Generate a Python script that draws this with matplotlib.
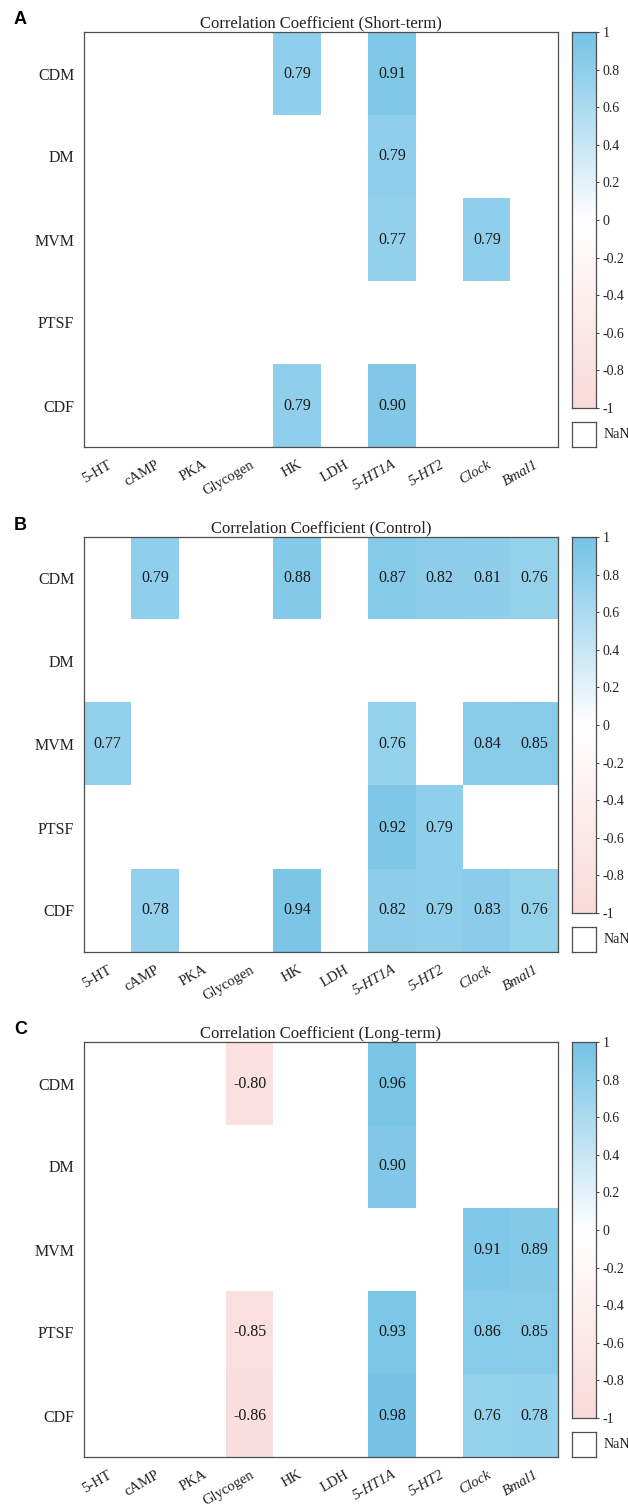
import numpy as np
import matplotlib
matplotlib.use('Agg')
import matplotlib.pyplot as plt
from matplotlib.colors import LinearSegmentedColormap
from matplotlib.transforms import ScaledTranslation

plt.rcParams['font.family'] = ['Liberation Serif', 'DejaVu Serif']

nan = np.nan

rows = ['CDM', 'DM', 'MVM', 'PTSF', 'CDF']
cols = ['5-HT', 'cAMP', 'PKA', 'Glycogen', 'HK', 'LDH', '5-HT1A', '5-HT2', 'Clock', 'Bmal1']
italic_cols = ['5-HT1A', '5-HT2', 'Clock', 'Bmal1']

titles = ['Correlation Coefficient (Short-term)',
          'Correlation Coefficient (Control)',
          'Correlation Coefficient (Long-term)']
letters = ['A', 'B', 'C']

#                5-HT  cAMP  PKA   Glyc   HK    LDH  5HT1A 5HT2  Clock Bmal1
short_term = [[nan, nan, nan, nan,  0.79, nan, 0.91, nan,  nan,  nan],
              [nan, nan, nan, nan,  nan,  nan, 0.79, nan,  nan,  nan],
              [nan, nan, nan, nan,  nan,  nan, 0.77, nan,  0.79, nan],
              [nan, nan, nan, nan,  nan,  nan, nan,  nan,  nan,  nan],
              [nan, nan, nan, nan,  0.79, nan, 0.90, nan,  nan,  nan]]

control = [[nan,  0.79, nan, nan, 0.88, nan, 0.87, 0.82, 0.81, 0.76],
           [nan,  nan,  nan, nan, nan,  nan, nan,  nan,  nan,  nan],
           [0.77, nan,  nan, nan, nan,  nan, 0.76, nan,  0.84, 0.85],
           [nan,  nan,  nan, nan, nan,  nan, 0.92, 0.79, nan,  nan],
           [nan,  0.78, nan, nan, 0.94, nan, 0.82, 0.79, 0.83, 0.76]]

long_term = [[nan, nan, nan, -0.80, nan, nan, 0.96, nan, nan,  nan],
             [nan, nan, nan, nan,   nan, nan, 0.90, nan, nan,  nan],
             [nan, nan, nan, nan,   nan, nan, nan,  nan, 0.91, 0.89],
             [nan, nan, nan, -0.85, nan, nan, 0.93, nan, 0.86, 0.85],
             [nan, nan, nan, -0.86, nan, nan, 0.98, nan, 0.76, 0.78]]

panels = [short_term, control, long_term]

cmap = LinearSegmentedColormap.from_list(
    'pinkblue', [(0.0, '#F9DAD8'), (0.5, '#FFFFFF'), (1.0, '#74C3E6')])
cmap.set_bad('white')

W, H = 628, 1508
fig = plt.figure(figsize=(W / 100, H / 100), dpi=100)

box_tops = [32, 537, 1042]
box_h = 415
edge = '0.3'
shift = ScaledTranslation(4 / 100, 0, fig.dpi_scale_trans)

for k, data in enumerate(panels):
    arr = np.array(data, dtype=float)
    top = box_tops[k]
    ax = fig.add_axes([84 / W, (H - top - box_h) / H, 474 / W, box_h / H])
    ax.imshow(np.ma.masked_invalid(arr), cmap=cmap, vmin=-1, vmax=1,
              aspect='auto', interpolation='nearest')
    for i in range(arr.shape[0]):
        for j in range(arr.shape[1]):
            if not np.isnan(arr[i, j]):
                ax.text(j, i, f'{arr[i, j]:.2f}', ha='center', va='center',
                        fontsize=11.5, color='#1a1a1a')
    ax.set_yticks(range(len(rows)))
    ax.set_yticklabels(rows, fontsize=11.5)
    ax.set_xticks(range(len(cols)))
    ax.set_xticklabels(cols, fontsize=10.5, rotation=30, ha='right',
                       rotation_mode='anchor')
    for lab in ax.get_xticklabels():
        lab.set_transform(lab.get_transform() + shift)
        if lab.get_text() in italic_cols:
            lab.set_fontstyle('italic')
    ax.tick_params(length=0, pad=7, colors='#222222')
    ax.tick_params(axis='x', pad=8)
    for s in ax.spines.values():
        s.set_color(edge)
        s.set_linewidth(0.9)
    ax.set_title(titles[k], fontsize=12, pad=3, color='#222222')

    fig.text(14 / W, 1 - (top - 12) / H, letters[k], fontsize=13,
             fontweight='bold', family='Liberation Sans', va='center')

    # colorbar
    cax = fig.add_axes([572 / W, (H - top - 376) / H, 24 / W, 376 / H])
    grad = np.linspace(-1, 1, 256).reshape(-1, 1)
    cax.imshow(grad, cmap=cmap, vmin=-1, vmax=1, aspect='auto',
               origin='lower', extent=[0, 1, -1, 1])
    cax.set_xticks([])
    cax.yaxis.tick_right()
    ticks = np.round(np.arange(-1, 1.01, 0.2), 1) + 0.0
    cax.set_yticks(ticks)
    cax.set_yticklabels(['0' if abs(t) < 1e-9 else f'{t:g}' for t in ticks],
                        fontsize=10)
    cax.tick_params(axis='y', length=2, width=0.6, pad=3, colors='#222222')
    for s in cax.spines.values():
        s.set_color(edge)
        s.set_linewidth(0.9)

    # NaN box
    nax = fig.add_axes([572 / W, (H - top - 415) / H, 24 / W, 25 / H])
    nax.set_xticks([])
    nax.set_yticks([])
    for s in nax.spines.values():
        s.set_color(edge)
        s.set_linewidth(0.9)
    nax.text(1.3, 0.5, 'NaN', transform=nax.transAxes, fontsize=10,
             va='center', ha='left', color='#222222', clip_on=False)

fig.savefig('out.png', dpi=100)
